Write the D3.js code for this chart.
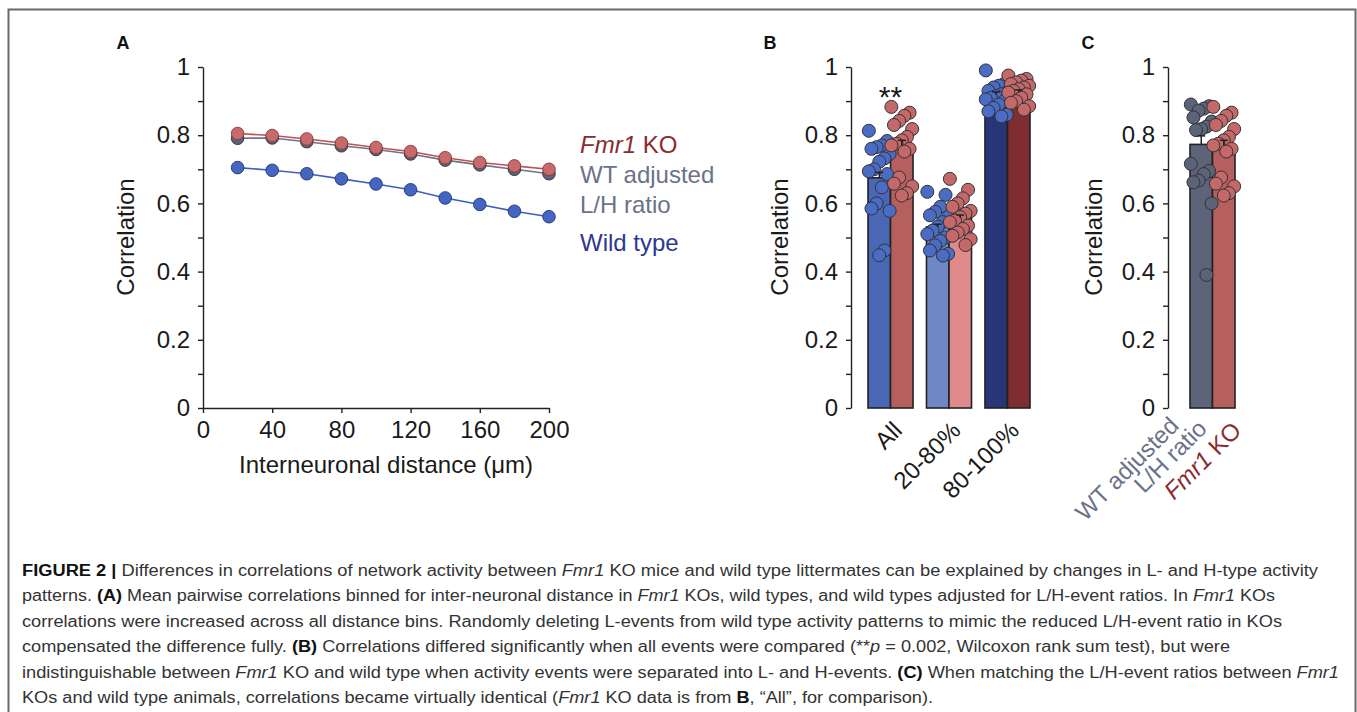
<!DOCTYPE html>
<html>
<head>
<meta charset="utf-8">
<script src="https://cdn.jsdelivr.net/npm/d3@7"></script>
<style>
  body { margin: 0; background: #fff; }
  svg { display: block; font-family: "Liberation Sans", Arial, sans-serif; }
  .axis path, .axis line { stroke: #222; stroke-width: 1.4; }
  .axis text { font-size: 24px; fill: #1a1a1a; font-family: "Liberation Sans", Arial, sans-serif; }
</style>
</head>
<body>
<svg id="fig" width="1357" height="712"></svg>
<script>
// ─── Data: panel A (mean correlation per distance bin) ───
const distances = [20, 40, 60, 80, 100, 120, 140, 160, 180, 200];
const koLine    = [0.805, 0.799, 0.789, 0.777, 0.764, 0.752, 0.734, 0.720, 0.710, 0.700];
const wtAdjLine = [0.791, 0.792, 0.781, 0.769, 0.758, 0.745, 0.727, 0.713, 0.700, 0.687];
const wtLine    = [0.705, 0.697, 0.687, 0.672, 0.657, 0.640, 0.616, 0.597, 0.577, 0.561];
const xTicksA   = [0, 40, 80, 120, 160, 200];

// ─── Data: panel B (event classes) ───
const bGroups  = ["All", "20-80%", "80-100%"];
const bMeanWT  = [0.675, 0.531, 0.918];
const bMeanKO  = [0.770, 0.558, 0.925];
const bSemWT   = [0.016, 0.008, 0.009];
const bSemKO   = [0.015, 0.008, 0.008];
const allWT  = [0.813, 0.783, 0.770, 0.765, 0.760, 0.745, 0.732, 0.722, 0.700, 0.694, 0.686, 0.647, 0.600, 0.585, 0.578, 0.462, 0.448];
const allKO  = [0.883, 0.866, 0.857, 0.842, 0.830, 0.818, 0.795, 0.785, 0.775, 0.770, 0.760, 0.752, 0.676, 0.658, 0.650, 0.630, 0.623];
const midWT  = [0.634, 0.625, 0.590, 0.575, 0.565, 0.560, 0.545, 0.532, 0.520, 0.510, 0.500, 0.490, 0.477, 0.462, 0.452, 0.447];
const midKO  = [0.672, 0.640, 0.615, 0.600, 0.590, 0.578, 0.570, 0.560, 0.550, 0.545, 0.535, 0.525, 0.515, 0.505, 0.495, 0.478];
const highWT = [0.990, 0.950, 0.945, 0.940, 0.930, 0.925, 0.920, 0.915, 0.910, 0.905, 0.900, 0.890, 0.880, 0.870, 0.860, 0.855];
const highKO = [0.975, 0.965, 0.960, 0.955, 0.950, 0.945, 0.940, 0.935, 0.930, 0.925, 0.920, 0.910, 0.900, 0.895, 0.885, 0.875];
const bDotsWT = [allWT, midWT, highWT];
const bDotsKO = [allKO, midKO, highKO];

// ─── Data: panel C (WT adjusted vs Fmr1 KO, "All") ───
const cGroups = ["WT adjusted", "Fmr1 KO"];
const cMean   = [0.773, 0.770];
const cSem    = [0.025, 0.015];
const wtAdjDots = [0.890, 0.885, 0.878, 0.872, 0.852, 0.840, 0.825, 0.818, 0.815, 0.716, 0.695, 0.686, 0.667, 0.662, 0.600, 0.390];
const cDots = [wtAdjDots, allKO];

// ─── Colours ───
const C_KO = "#c4686a", C_KO_DARK = "#8b2b2e";
const C_WT = "#4a6cc4", C_WT_DARK = "#2b3990";
const C_ADJ = "#5b6379", C_ADJ_TXT = "#6b7289";
const bFillWT = ["#4a67b5", "#6f87c4", "#283678"];
const bFillKO = ["#b5605f", "#de8a8a", "#7f2d30"];

const FS = 24;
const svg = d3.select("#fig");

// frame around the whole figure
svg.append("rect")
  .attr("x", 8.5).attr("y", 9.5).attr("width", 1347).attr("height", 740)
  .attr("fill", "none").attr("stroke", "#6a6a6a").attr("stroke-width", 2);

function panelLetter(x, y, s) {
  svg.append("text").attr("x", x).attr("y", y).text(s)
    .attr("font-size", 18).attr("font-weight", 700).attr("fill", "#111")
    .attr("text-anchor", "middle");
}

function yTitle(x, yc) {
  svg.append("text")
    .attr("transform", `translate(${x},${yc}) rotate(-90)`)
    .attr("text-anchor", "middle").attr("font-size", FS).attr("fill", "#1a1a1a")
    .text("Correlation");
}

function leftAxis(x, y) {
  return svg.append("g").attr("class", "axis")
    .attr("transform", `translate(${x},0)`)
    .call(d3.axisLeft(y)
      .tickValues(d3.range(0, 11).map((d) => d / 10))
      .tickSize(5).tickSizeOuter(0).tickPadding(8)
      .tickFormat((d) => (Math.round(d * 10) % 2 === 0 ? String(Math.round(d * 10) / 10) : "")));
}

function rotLabel(x, y, fill) {
  return svg.append("text")
    .attr("transform", `translate(${x},${y}) rotate(-45)`)
    .attr("text-anchor", "end").attr("font-size", FS).attr("fill", fill);
}

const jitter = (i) => ((i * 7) % 9 - 4) * 2.6;

// ─── Panel A ───
const xA = d3.scaleLinear().domain([0, 200]).range([203, 549]);
const yA = d3.scaleLinear().domain([0, 1]).range([408, 67]);

panelLetter(123, 49, "A");
leftAxis(203, yA);
svg.append("g").attr("class", "axis")
  .attr("transform", `translate(0,408)`)
  .call(d3.axisBottom(xA).tickValues(xTicksA).tickSize(5).tickSizeOuter(0).tickPadding(8));
yTitle(134, 237);
svg.append("text").attr("x", 386).attr("y", 473).attr("text-anchor", "middle")
  .attr("font-size", FS).attr("fill", "#1a1a1a").text("Interneuronal distance (μm)");

const seriesA = [
  { vals: wtLine,    line: "#3d5fc4", fill: "#4466c0", stroke: "#22347a" },
  { vals: wtAdjLine, line: "#6b7289", fill: "#5d6377", stroke: "#2e3240" },
  { vals: koLine,    line: "#c0504d", fill: "#c8696b", stroke: "#86393a" },
];
const lineA = d3.line().x((d, i) => xA(distances[i])).y((d) => yA(d));
seriesA.forEach((s) => {
  svg.append("path").datum(s.vals).attr("d", lineA)
    .attr("fill", "none").attr("stroke", s.line).attr("stroke-width", 1.6);
});
seriesA.forEach((s) => {
  svg.append("g").selectAll("circle").data(s.vals).join("circle")
    .attr("cx", (d, i) => xA(distances[i])).attr("cy", (d) => yA(d)).attr("r", 6.3)
    .attr("fill", s.fill).attr("stroke", s.stroke).attr("stroke-width", 0.9);
});

// legend labels
const leg = svg.append("g").attr("font-size", FS);
leg.append("text").attr("x", 580).attr("y", 153).attr("fill", C_KO_DARK)
  .call((t) => { t.append("tspan").attr("font-style", "italic").text("Fmr1"); t.append("tspan").text(" KO"); });
leg.append("text").attr("x", 580).attr("y", 183).attr("fill", C_ADJ_TXT).text("WT adjusted");
leg.append("text").attr("x", 580).attr("y", 213).attr("fill", C_ADJ_TXT).text("L/H ratio");
leg.append("text").attr("x", 580).attr("y", 251).attr("fill", C_WT_DARK).text("Wild type");

// ─── Panel B ───
const yB = d3.scaleLinear().domain([0, 1]).range([408, 67]);
const xB = d3.scaleBand().domain(bGroups).range([868, 1030]).paddingInner(0.23).paddingOuter(0);
const subB = d3.scaleBand().domain(["WT", "KO"]).range([0, xB.bandwidth()]);

panelLetter(770, 49, "B");
leftAxis(851, yB);
yTitle(788, 237);

const bBars = bGroups.flatMap((g, i) => [
  { g, k: "WT", v: bMeanWT[i], e: bSemWT[i], fill: bFillWT[i], dots: bDotsWT[i], dot: C_WT },
  { g, k: "KO", v: bMeanKO[i], e: bSemKO[i], fill: bFillKO[i], dots: bDotsKO[i], dot: C_KO },
]);
const bx = (d) => xB(d.g) + subB(d.k);

svg.append("g").selectAll("rect").data(bBars).join("rect")
  .attr("x", bx).attr("y", (d) => yB(d.v))
  .attr("width", subB.bandwidth()).attr("height", (d) => yB(0) - yB(d.v))
  .attr("fill", (d) => d.fill).attr("stroke", "#222").attr("stroke-width", 1.6);

bBars.forEach((b) => {
  const cx = bx(b) + subB.bandwidth() / 2;
  svg.append("g").selectAll("circle").data(b.dots).join("circle")
    .attr("cx", (d, i) => cx + jitter(i)).attr("cy", (d) => yB(d)).attr("r", 6.5)
    .attr("fill", b.dot).attr("stroke", "#333").attr("stroke-width", 1);
});

// upper half of SEM bar only (lower half hidden by the bar)
function errorBars(data, xPos, y) {
  const g = svg.append("g").attr("stroke", "#222").attr("stroke-width", 1.5);
  data.forEach((d) => {
    const cx = xPos(d);
    g.append("line").attr("x1", cx).attr("x2", cx).attr("y1", y(d.v)).attr("y2", y(d.v + d.e));
    g.append("line").attr("x1", cx - 4).attr("x2", cx + 4).attr("y1", y(d.v + d.e)).attr("y2", y(d.v + d.e));
  });
}
errorBars(bBars, (d) => bx(d) + subB.bandwidth() / 2, yB);

svg.append("text").attr("x", xB("All") + xB.bandwidth() / 2).attr("y", 107)
  .attr("text-anchor", "middle").attr("font-size", 30).attr("fill", "#1a1a1a").text("**");

bGroups.forEach((g) => {
  rotLabel(xB(g) + xB.bandwidth() / 2 + 13, 432, "#1a1a1a").text(g);
});

// ─── Panel C ───
const yC = d3.scaleLinear().domain([0, 1]).range([408, 67]);
const xC = d3.scaleBand().domain(cGroups).range([1190, 1235]);

panelLetter(1088, 49, "C");
leftAxis(1168, yC);
yTitle(1102, 237);

const cBars = cGroups.map((g, i) => ({
  g, v: cMean[i], e: cSem[i], dots: cDots[i],
  fill: i === 0 ? "#5d6479" : "#b5605f", dot: i === 0 ? C_ADJ : C_KO,
}));
svg.append("g").selectAll("rect").data(cBars).join("rect")
  .attr("x", (d) => xC(d.g)).attr("y", (d) => yC(d.v))
  .attr("width", xC.bandwidth()).attr("height", (d) => yC(0) - yC(d.v))
  .attr("fill", (d) => d.fill).attr("stroke", "#222").attr("stroke-width", 1.6);
cBars.forEach((b) => {
  const cx = xC(b.g) + xC.bandwidth() / 2;
  svg.append("g").selectAll("circle").data(b.dots).join("circle")
    .attr("cx", (d, i) => cx + jitter(i)).attr("cy", (d) => yC(d)).attr("r", 6.5)
    .attr("fill", b.dot).attr("stroke", "#333").attr("stroke-width", 1);
});
errorBars(cBars, (d) => xC(d.g) + xC.bandwidth() / 2, yC);

// rotated category labels for C
const cxAdj = xC("WT adjusted") + xC.bandwidth() / 2;
const cxKO = xC("Fmr1 KO") + xC.bandwidth() / 2;
rotLabel(cxAdj - 21, 427, C_ADJ_TXT).text("WT adjusted");
rotLabel(cxAdj + 7, 430, C_ADJ_TXT).text("L/H ratio");
rotLabel(cxKO + 19, 432, C_KO_DARK)
  .call((t) => { t.append("tspan").attr("font-style", "italic").text("Fmr1"); t.append("tspan").text(" KO"); });

// ─── Caption ───
const captionLines = [
  [["FIGURE 2 | ", "b"], ["Differences in correlations of network activity between "], ["Fmr1", "i"], [" KO mice and wild type littermates can be explained by changes in L- and H-type activity"]],
  [["patterns. "], ["(A)", "b"], [" Mean pairwise correlations binned for inter-neuronal distance in "], ["Fmr1", "i"], [" KOs, wild types, and wild types adjusted for L/H-event ratios. In "], ["Fmr1", "i"], [" KOs"]],
  [["correlations were increased across all distance bins. Randomly deleting L-events from wild type activity patterns to mimic the reduced L/H-event ratio in KOs"]],
  [["compensated the difference fully. "], ["(B)", "b"], [" Correlations differed significantly when all events were compared (**"], ["p", "i"], [" = 0.002, Wilcoxon rank sum test), but were"]],
  [["indistinguishable between "], ["Fmr1", "i"], [" KO and wild type when activity events were separated into L- and H-events. "], ["(C)", "b"], [" When matching the L/H-event ratios between "], ["Fmr1", "i"]],
  [["KOs and wild type animals, correlations became virtually identical ("], ["Fmr1", "i"], [" KO data is from "], ["B", "b"], [", \u201CAll\u201D, for comparison)."]],
];
const captionEnds = [1318, 1275, 1282, 1230, 1339, 933];
const cap = svg.append("g").attr("font-size", 16).attr("fill", "#333");
captionLines.forEach((segs, i) => {
  const t = cap.append("text").attr("x", 22).attr("y", 576 + i * 25.4)
    .attr("textLength", captionEnds[i] - 22).attr("lengthAdjust", "spacingAndGlyphs");
  segs.forEach(([s, st]) => {
    const ts = t.append("tspan").text(s);
    if (st === "b") ts.attr("font-weight", 700).attr("fill", "#111");
    if (st === "i") ts.attr("font-style", "italic");
  });
});
</script>
</body>
</html>
